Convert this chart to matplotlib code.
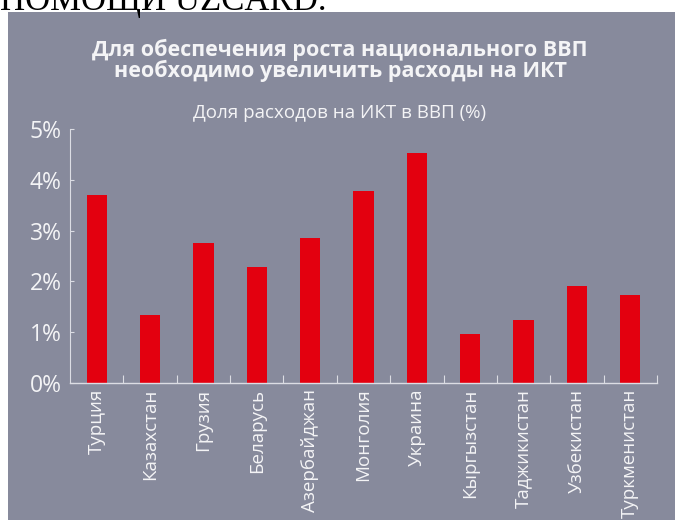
import matplotlib.pyplot as plt

countries = ["Турция", "Казахстан", "Грузия", "Беларусь", "Азербайджан", "Монголия",
             "Украина", "Кыргызстан", "Таджикистан", "Узбекистан", "Туркменистан"]
ict_share = [3.70, 1.34, 2.76, 2.28, 2.85, 3.78, 4.53, 0.96, 1.24, 1.91, 1.73]
y_ticks = [0, 1, 2, 3, 4, 5]
y_labels = ["0%", "1%", "2%", "3%", "4%", "5%"]

title_lines = ["Для обеспечения роста национального ВВП",
               "необходимо увеличить расходы на ИКТ"]
subtitle = "Доля расходов на ИКТ в ВВП (%)"

plt.rcParams['font.family'] = ['Open Sans', 'DejaVu Sans']

panel = "#878a9c"
txt = "#f4f4f6"
line = "#dcdde4"

fig = plt.figure(figsize=(6.75, 5.2), dpi=100)
fig.patch.set_facecolor("white")

# grey panel behind the chart
bg = fig.add_axes([8 / 675, 0, 1 - 8 / 675, 1 - 12 / 520], zorder=-1)
bg.set_facecolor(panel)
bg.set_xticks([])
bg.set_yticks([])
for s in bg.spines.values():
    s.set_visible(False)

# cut-off caption from the page above the picture
fig.text(0.0, 1 - 10 / 520, "ПОМОЩИ UZCARD.", family="Liberation Serif", fontsize=25,
         color="black", ha="left", va="baseline")

ax = fig.add_axes([70 / 675, 1 - 383 / 520, 587 / 675, 254 / 520])
ax.set_facecolor("none")

x = list(range(len(countries)))
ax.bar(x, ict_share, width=0.38, color="#e3000f", zorder=2)

ax.set_xlim(-0.5, len(countries) - 0.5)
ax.set_ylim(0, 5)

ax.set_yticks(y_ticks)
ax.set_yticklabels(y_labels, fontsize=16.5, color=txt)
ax.set_xticks(x)
ax.set_xticklabels(countries, rotation=90, fontsize=13.5, color=txt)
ax.tick_params(axis="x", length=0, pad=4)
ax.tick_params(axis="y", direction="in", length=3, color=line, pad=6)

# separators between categories
ax.set_xticks([i + 0.5 for i in range(len(countries))], minor=True)
ax.tick_params(axis="x", which="minor", direction="in", length=6, color=line, width=0.8)

for s in ["top", "right"]:
    ax.spines[s].set_visible(False)
ax.spines["left"].set_color(line)
ax.spines["bottom"].set_color(line)
ax.spines["left"].set_linewidth(0.8)
ax.spines["bottom"].set_linewidth(1.0)

fig.text(340 / 675, 1 - 56 / 520, title_lines[0], ha="center", va="baseline",
         fontsize=15.5, fontweight="bold", color=txt)
fig.text(340 / 675, 1 - 77 / 520, title_lines[1], ha="center", va="baseline",
         fontsize=15.5, fontweight="bold", color=txt)
fig.text(340 / 675, 1 - 118 / 520, subtitle, ha="center", va="baseline", fontsize=13.5,
         color=txt)

fig.savefig("out.png", dpi=100, facecolor=fig.get_facecolor())
